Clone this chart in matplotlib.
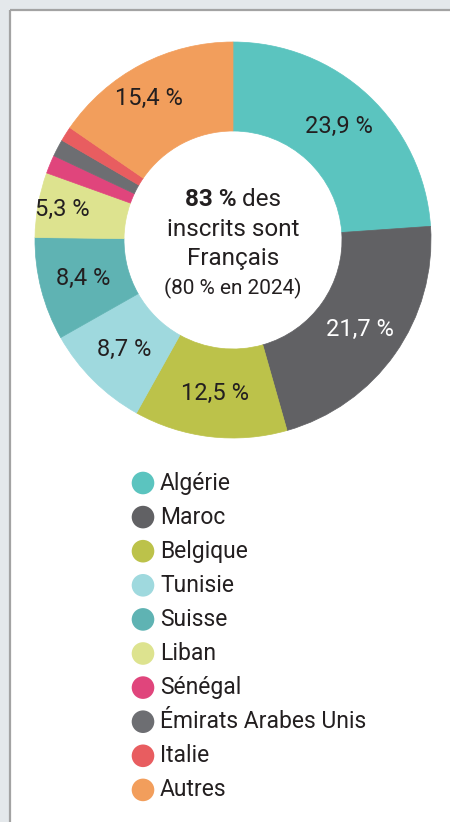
import matplotlib
matplotlib.use("Agg")
import matplotlib.pyplot as plt
import numpy as np
from matplotlib.patches import Rectangle

# ---- data ----
categories = ["Algérie", "Maroc", "Belgique", "Tunisie", "Suisse", "Liban",
              "Sénégal", "Émirats Arabes Unis", "Italie", "Autres"]
values = [23.9, 21.7, 12.5, 8.7, 8.4, 5.3, 1.5, 1.4, 1.2, 15.4]
value_labels = ["23,9 %", "21,7 %", "12,5 %", "8,7 %", "8,4 %", "5,3 %",
                "", "", "", "15,4 %"]
colors = ["#5bc4bf", "#616164", "#bcc24a", "#9fd9de", "#5fb3b3", "#dde38f",
          "#e0457c", "#6d6e72", "#e85d60", "#f29e5c"]
center_bold = "83 %"
center_lines = [" des", "inscrits sont", "Français", "(80 % en 2024)"]

FONT = ["Roboto", "DejaVu Sans"]
plt.rcParams["font.family"] = FONT
TXT = "#231f20"

W, H = 450, 822
fig = plt.figure(figsize=(W / 100, H / 100), dpi=100)
fig.patch.set_facecolor("#e4e8eb")

# white panel with top/left border
full = fig.add_axes([0, 0, 1, 1])
full.set_xlim(0, W)
full.set_ylim(H, 0)
full.axis("off")
full.add_patch(Rectangle((10, 10), W - 10, H - 10, facecolor="white", edgecolor="none", zorder=0))
full.plot([10, W], [10, 10], color="#a3a3a3", lw=1.6, zorder=1, solid_capstyle="butt")
full.plot([10, 10], [10, H], color="#a3a3a3", lw=1.6, zorder=1, solid_capstyle="butt")

# donut
cx, cy, R = 233, 240, 198
half = 200
ax = fig.add_axes([(cx - half) / W, (H - cy - half) / H, 2 * half / W, 2 * half / H])
ax.axis("off")
wedges, _ = ax.pie(values, colors=colors, startangle=90, counterclock=False,
                   radius=R, wedgeprops=dict(width=R - 109, linewidth=0.5))
for w, c in zip(wedges, colors):
    w.set_edgecolor(c)
ax.set_xlim(-half, half)
ax.set_ylim(-half, half)
ax.set_aspect("equal")

label_r = {5: 173, 9: 160}
label_dx = {9: -10}
for i, (w, lab) in enumerate(zip(wedges, value_labels)):
    if not lab:
        continue
    ang = np.deg2rad((w.theta1 + w.theta2) / 2)
    r = label_r.get(i, 155)
    col = "white" if categories[i] == "Maroc" else TXT
    ax.text(r * np.cos(ang) + label_dx.get(i, 0), r * np.sin(ang), lab,
            ha="center", va="center", fontsize=17, color=col)

# center text
fig.canvas.draw()
renderer = fig.canvas.get_renderer()
y1 = 240 - 200
tb = ax.text(0, 0, center_bold, fontsize=17.5, weight="bold", color=TXT, ha="left", va="center")
tr = ax.text(0, 0, center_lines[0], fontsize=17.5, color=TXT, ha="left", va="center")
wb = tb.get_window_extent(renderer).width
wr = tr.get_window_extent(renderer).width
x0 = -(wb + wr) / 2
tb.set_position((x0, y1))
tr.set_position((x0 + wb, y1))
ax.text(0, 240 - 230, center_lines[1], fontsize=17.5, color=TXT, ha="center", va="center")
ax.text(0, 240 - 259, center_lines[2], fontsize=17.5, color=TXT, ha="center", va="center")
ax.text(0, 240 - 288, center_lines[3], fontsize=15, color=TXT, ha="center", va="center")

# legend
ly0, dy = 483, 34.1
for i, (cat, col) in enumerate(zip(categories, colors)):
    y = ly0 + i * dy
    full.scatter([143], [y], s=265, color=col, edgecolors="none", zorder=3)
    full.text(160, y, cat, fontsize=16.5, color=TXT, ha="left", va="center")

fig.savefig("out.png", dpi=100, facecolor=fig.get_facecolor())
